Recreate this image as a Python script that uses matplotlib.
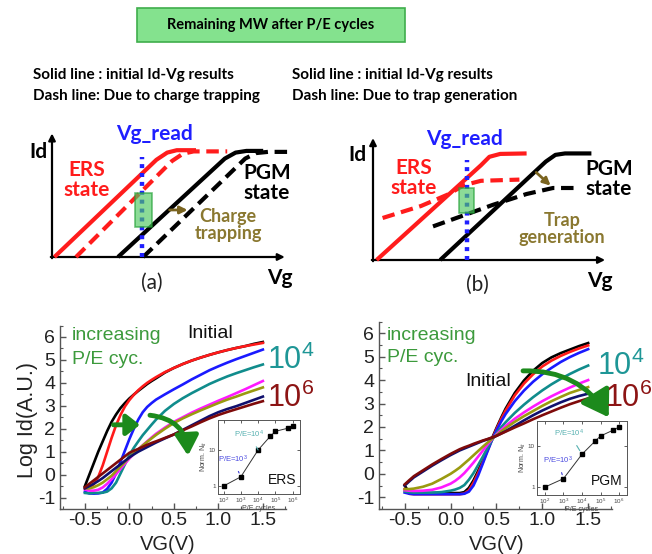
import numpy as np
import matplotlib
matplotlib.use("Agg")
import matplotlib.pyplot as plt
from matplotlib.patches import FancyArrowPatch, Rectangle
from matplotlib.ticker import MultipleLocator, FixedLocator, FixedFormatter, NullLocator

plt.rcParams['font.family'] = ['Liberation Sans', 'DejaVu Sans']
plt.rcParams['axes.unicode_minus'] = False
plt.rcParams['mathtext.fontset'] = 'custom'
plt.rcParams['mathtext.rm'] = 'Liberation Sans'
plt.rcParams['mathtext.it'] = 'Liberation Sans:italic'

# ---------------- schematic Id-Vg sketches (arbitrary units) ----------------
# (a) charge trapping: parallel shift
a_ers_solid_x = [0.1, 4.35, 4.8, 5.2, 6.0]
a_ers_solid_y = [0.0, 4.05, 4.35, 4.45, 4.45]
a_ers_dash_x = [1.0, 5.0, 5.45, 5.9, 7.3]
a_ers_dash_y = [0.0, 4.0, 4.3, 4.4, 4.4]
a_pgm_solid_x = [2.75, 7.2, 7.65, 8.1, 8.8]
a_pgm_solid_y = [0.0, 4.1, 4.35, 4.42, 4.42]
a_pgm_dash_x = [3.8, 8.05, 8.5, 9.0, 9.9]
a_pgm_dash_y = [0.0, 4.1, 4.33, 4.38, 4.38]
a_vread = 3.75

# (b) trap generation: degraded slope
b_ers_solid_x = [0.15, 4.5, 4.85, 5.3, 6.4]
b_ers_solid_y = [0.0, 3.95, 4.3, 4.42, 4.44]
b_ers_dash_x = [0.4, 2.0, 3.1, 3.8, 4.5, 6.1]
b_ers_dash_y = [1.75, 2.25, 2.72, 3.12, 3.3, 3.35]
b_pgm_solid_x = [2.8, 7.2, 7.6, 8.0, 9.1]
b_pgm_solid_y = [0.0, 4.1, 4.38, 4.44, 4.44]
b_pgm_dash_x = [2.5, 5.0, 6.4, 7.5, 8.4]
b_pgm_dash_y = [1.4, 2.3, 2.75, 3.0, 3.0]
b_vread = 3.92

# ---------------- measured Id-Vg after P/E cycling ----------------
series_colors = ['#000000', '#ff1a1a', '#1a1aff', '#108c8c',
                 '#ff1aff', '#9a9a10', '#10106e', '#7e0a0a']

ers_vg = [-0.5, -0.45, -0.4, -0.35, -0.3, -0.25, -0.2, -0.15, -0.1, -0.05, 0.0,
          0.05, 0.1, 0.15, 0.2, 0.25, 0.3, 0.4, 0.5, 0.6, 0.7, 0.8, 0.9, 1.0,
          1.1, 1.2, 1.3, 1.4, 1.5]
ers_black = [-0.5, 0.0, 0.5, 1.0, 1.45, 1.9, 2.3, 2.62, 2.9, 3.12, 3.32, 3.49,
             3.65, 3.8, 3.95, 4.08, 4.2, 4.45, 4.65, 4.82, 4.97, 5.1, 5.22, 5.33,
             5.43, 5.52, 5.6, 5.7, 5.78]
ers_red = [-0.6, -0.55, -0.42, -0.1, 0.4, 1.0, 1.6, 2.15, 2.6, 2.97, 3.25, 3.48,
           3.68, 3.85, 4.0, 4.13, 4.25, 4.47, 4.65, 4.82, 4.97, 5.1, 5.22, 5.33,
           5.43, 5.52, 5.6, 5.67, 5.74]
ers_blue = [-0.75, -0.82, -0.83, -0.82, -0.78, -0.62, -0.35, 0.05, 0.55, 1.05,
            1.55, 2.0, 2.4, 2.72, 2.95, 3.12, 3.27, 3.5, 3.72, 3.93, 4.15, 4.35,
            4.55, 4.72, 4.88, 5.03, 5.17, 5.31, 5.45]
ers_teal = [-0.8, -0.82, -0.8, -0.8, -0.79, -0.74, -0.6, -0.35, 0.05, 0.45, 0.85,
            1.17, 1.45, 1.72, 1.95, 2.18, 2.4, 2.78, 3.08, 3.33, 3.55, 3.75, 3.95,
            4.12, 4.28, 4.42, 4.55, 4.68, 4.8]
ers_magenta = [-0.65, -0.7, -0.7, -0.66, -0.56, -0.4, -0.2, 0.02, 0.25, 0.48,
               0.7, 0.9, 1.1, 1.28, 1.45, 1.62, 1.78, 2.05, 2.3, 2.5, 2.7, 2.88,
               3.05, 3.22, 3.38, 3.55, 3.72, 3.9, 4.08]
ers_olive = [-0.6, -0.6, -0.55, -0.46, -0.35, -0.2, -0.05, 0.15, 0.35, 0.55,
             0.75, 0.93, 1.1, 1.27, 1.43, 1.58, 1.73, 2.0, 2.25, 2.45, 2.63, 2.8,
             2.96, 3.12, 3.27, 3.4, 3.54, 3.67, 3.8]
ers_navy = [-0.6, -0.5, -0.4, -0.28, -0.15, 0.0, 0.15, 0.3, 0.45, 0.6, 0.75,
            0.88, 1.0, 1.1, 1.2, 1.3, 1.4, 1.58, 1.75, 1.95, 2.15, 2.35, 2.55,
            2.72, 2.86, 2.98, 3.12, 3.26, 3.4]
ers_maroon = [-0.55, -0.4, -0.25, -0.1, 0.05, 0.2, 0.35, 0.5, 0.65, 0.8, 0.95,
              1.04, 1.12, 1.21, 1.3, 1.38, 1.45, 1.6, 1.75, 1.93, 2.1, 2.28, 2.45,
              2.6, 2.73, 2.85, 2.97, 3.09, 3.2]

pgm_vg = [-0.5, -0.45, -0.4, -0.3, -0.2, -0.1, 0.0, 0.05, 0.1, 0.15, 0.2, 0.25,
          0.3, 0.35, 0.4, 0.45, 0.5, 0.55, 0.6, 0.7, 0.8, 0.9, 1.0, 1.1, 1.2,
          1.3, 1.4, 1.5]
pgm_black = [-0.5, -0.8, -0.82, -0.82, -0.82, -0.82, -0.82, -0.82, -0.82, -0.78,
             -0.6, -0.28, 0.12, 0.57, 1.03, 1.5, 1.95, 2.38, 2.78, 3.45, 3.98,
             4.4, 4.73, 4.97, 5.15, 5.3, 5.45, 5.58]
pgm_red = [-0.65, -0.85, -0.87, -0.87, -0.87, -0.87, -0.87, -0.87, -0.87, -0.84,
           -0.7, -0.38, 0.03, 0.48, 0.97, 1.45, 1.9, 2.32, 2.7, 3.35, 3.85, 4.25,
           4.58, 4.83, 5.03, 5.2, 5.35, 5.48]
pgm_blue = [-0.8, -0.85, -0.87, -0.87, -0.87, -0.87, -0.87, -0.87, -0.87, -0.85,
            -0.76, -0.5, -0.08, 0.42, 0.93, 1.42, 1.85, 2.22, 2.55, 3.1, 3.55,
            3.93, 4.25, 4.52, 4.77, 4.98, 5.16, 5.32]
pgm_teal = [-0.75, -0.78, -0.8, -0.8, -0.8, -0.78, -0.72, -0.67, -0.6, -0.48,
            -0.25, 0.03, 0.37, 0.72, 1.08, 1.43, 1.73, 1.98, 2.2, 2.6, 2.95, 3.27,
            3.56, 3.82, 4.05, 4.26, 4.45, 4.62]
pgm_magenta = [-0.7, -0.72, -0.73, -0.72, -0.68, -0.58, -0.42, -0.3, -0.15, 0.03,
               0.25, 0.48, 0.73, 0.98, 1.23, 1.47, 1.68, 1.87, 2.04, 2.35, 2.62,
               2.87, 3.1, 3.31, 3.5, 3.68, 3.85, 4.0]
pgm_olive = [-0.65, -0.65, -0.63, -0.55, -0.42, -0.22, 0.0, 0.13, 0.27, 0.44,
             0.61, 0.79, 0.97, 1.15, 1.32, 1.49, 1.64, 1.8, 1.95, 2.22, 2.46,
             2.68, 2.9, 3.1, 3.28, 3.45, 3.58, 3.7]
pgm_navy = [-0.5, -0.32, -0.15, 0.1, 0.35, 0.58, 0.8, 0.9, 1.0, 1.08, 1.16, 1.24,
            1.32, 1.4, 1.47, 1.54, 1.62, 1.72, 1.82, 2.05, 2.28, 2.5, 2.7, 2.88,
            3.05, 3.2, 3.32, 3.42]
pgm_maroon = [-0.45, -0.27, -0.1, 0.15, 0.4, 0.63, 0.85, 0.95, 1.05, 1.13, 1.2,
              1.28, 1.35, 1.42, 1.48, 1.55, 1.62, 1.71, 1.8, 1.98, 2.15, 2.33,
              2.5, 2.66, 2.82, 2.97, 3.1, 3.22]

# normalised interface-trap density vs. P/E cycles
pe_cycles = [1e2, 1e3, 1e4, 5e4, 1e5, 5e5, 1e6]
ers_nit = [1.0, 1.8, 10.0, 24.0, 33.0, 40.0, 46.0]
pgm_nit = [1.0, 1.6, 6.3, 13.0, 17.5, 24.5, 29.0]

ticks_vg = [-0.5, 0.0, 0.5, 1.0, 1.5]
ticks_id = [-1, 0, 1, 2, 3, 4, 5, 6]

# ---------------------------------------------------------------------------
W, H = 652, 554
fig = plt.figure(figsize=(W / 100, H / 100), dpi=100)
fig.patch.set_facecolor('white')


def box(x0, y0, x1, y1):
    return [x0 / W, 1 - y1 / H, (x1 - x0) / W, (y1 - y0) / H]


def fpt(x, y):
    return (x / W, 1 - y / H)


CAL = ['Lato', 'DejaVu Sans']
RED = '#ff1c1c'
BLUE = '#1f1fff'
BROWN_TXT = '#8a7830'
GREEN_TXT = '#3c9a3c'
ARROW_GREEN = '#1c8a1c'

# ---- header ----
fig.add_artist(Rectangle(fpt(137, 42), 268 / W, 34 / H, transform=fig.transFigure,
                         facecolor='#84e28e', edgecolor='#3fae4c', lw=1.2))
fig.text(*fpt(271, 25), 'Remaining MW after P/E cycles', ha='center', va='center',
         family=CAL, weight='bold', size=10.5)
for x0, l1, l2 in [(33, 'Solid line : initial Id-Vg results', 'Dash line: Due to charge trapping'),
                   (292, 'Solid line : initial Id-Vg results', 'Dash line: Due to trap generation')]:
    fig.text(*fpt(x0, 75), l1, ha='left', va='center', family=CAL, weight='bold', size=11)
    fig.text(*fpt(x0, 96), l2, ha='left', va='center', family=CAL, weight='bold', size=11)


# ---- schematics ----
def sketch(ax, ers_s, ers_d, pgm_s, pgm_d, vread, xend, ytop, rect, arr):
    ax.set_xlim(-2, 10.5)
    ax.set_ylim(-2, 5.5)
    ax.axis('off')
    ax.annotate('', xy=(xend, 0), xytext=(-0.05, 0),
                arrowprops=dict(arrowstyle='-|>', lw=1.6, color='k', mutation_scale=10,
                                shrinkA=0, shrinkB=0))
    ax.annotate('', xy=(0, ytop), xytext=(0, -0.05),
                arrowprops=dict(arrowstyle='-|>', lw=1.6, color='k', mutation_scale=10,
                                shrinkA=0, shrinkB=0))
    ax.plot(*ers_s, color=RED, lw=3.0, solid_capstyle='butt', zorder=3)
    ax.plot(*ers_d, color=RED, lw=3.0, ls=(0, (3.0, 1.6)), zorder=3)
    ax.plot(*pgm_s, color='k', lw=3.0, solid_capstyle='butt', zorder=3)
    ax.plot(*pgm_d, color='k', lw=3.0, ls=(0, (3.0, 1.6)), zorder=3)
    ax.plot([vread, vread], [0, 4.15], color=BLUE, lw=3.2, ls=(0, (0.9, 1.1)), zorder=4)
    ax.add_patch(Rectangle((rect[0], rect[1]), rect[2], rect[3], facecolor='#4fc860',
                           edgecolor='#22a035', lw=1.2, alpha=0.65, zorder=5))
    ax.annotate('', xy=arr[1], xytext=arr[0],
                arrowprops=dict(arrowstyle='-|>', lw=2.0, color='#7a6420', mutation_scale=11,
                                shrinkA=0, shrinkB=0), zorder=6)


axA = fig.add_axes(box(4, 125, 304, 305))
sketch(axA, (a_ers_solid_x, a_ers_solid_y), (a_ers_dash_x, a_ers_dash_y),
       (a_pgm_solid_x, a_pgm_solid_y), (a_pgm_dash_x, a_pgm_dash_y),
       a_vread, 9.7, 5.15, (3.46, 1.25, 0.71, 1.42), ((4.9, 1.96), (5.65, 1.96)))
axB = fig.add_axes(box(325, 128, 625, 308))
sketch(axB, (b_ers_solid_x, b_ers_solid_y), (b_ers_dash_x, b_ers_dash_y),
       (b_pgm_solid_x, b_pgm_solid_y), (b_pgm_dash_x, b_pgm_dash_y),
       b_vread, 9.67, 5.08, (3.58, 1.96, 0.63, 1.04), ((6.8, 3.65), (7.4, 3.1)))

sk = dict(family=CAL, weight='bold', ha='center', va='center')
for (vx, vy), (ix, iy), (ex, ey), (px, py), (tx, ty), ttxt, (gx, gy), (lx, ly), lab in [
        ((154, 134), (38, 152), (87, 180), (267, 183), (228, 225), 'Charge\ntrapping',
         (280, 278), (152, 283), '(a)'),
        ((464, 139), (357, 155), (414, 178), (609, 179), (562, 229), 'Trap\ngeneration',
         (600, 281), (477, 285), '(b)')]:
    fig.text(*fpt(vx, vy), 'Vg_read', color=BLUE, size=15, **sk)
    fig.text(*fpt(ix, iy), 'Id', color='k', size=15, **sk)
    fig.text(*fpt(ex, ey), 'ERS\nstate', color=RED, size=15, linespacing=0.95, **sk)
    fig.text(*fpt(px, py), 'PGM\nstate', color='k', size=15, linespacing=0.95, **sk)
    fig.text(*fpt(tx, ty), ttxt, color=BROWN_TXT, size=13, linespacing=0.95, **sk)
    fig.text(*fpt(gx, gy), 'Vg', color='k', size=15, **sk)
    fig.text(*fpt(lx, ly), lab, color='#222222', size=15, family=CAL, ha='center', va='center')


# ---- measured curves ----
def style_main(ax):
    ax.set_xlim(-0.78, 1.76)
    ax.set_ylim(-1.5, 6.5)
    for s in ('top', 'right'):
        ax.spines[s].set_visible(False)
    for s in ('left', 'bottom'):
        ax.spines[s].set_color('#555555')
        ax.spines[s].set_linewidth(1.0)
    ax.xaxis.set_major_locator(FixedLocator(ticks_vg))
    ax.xaxis.set_major_formatter(FixedFormatter(['%.1f' % v for v in ticks_vg]))
    ax.xaxis.set_minor_locator(MultipleLocator(0.25))
    ax.yaxis.set_major_locator(FixedLocator(ticks_id))
    ax.yaxis.set_major_formatter(FixedFormatter([str(v) for v in ticks_id]))
    ax.yaxis.set_minor_locator(MultipleLocator(0.5))
    ax.tick_params(which='both', direction='in', colors='#555555', labelcolor='#222222')
    ax.tick_params(which='major', length=4, width=1, labelsize=14)
    ax.tick_params(which='minor', length=2.5, width=0.8)
    ax.tick_params(axis='x', pad=2.5)
    ax.tick_params(axis='y', pad=3.5)
    ax.patch.set_alpha(0)


axL = fig.add_axes(box(60, 325.5, 286, 509))
style_main(axL)
for yv, c in zip([ers_black, ers_red, ers_blue, ers_teal, ers_magenta, ers_olive,
                  ers_navy, ers_maroon], series_colors):
    axL.plot(ers_vg, yv, color=c, lw=1.9, solid_joinstyle='round')

axR = fig.add_axes(box(379, 321.5, 612, 509))
style_main(axR)
for yv, c in zip([pgm_black, pgm_red, pgm_blue, pgm_teal, pgm_magenta, pgm_olive,
                  pgm_navy, pgm_maroon], series_colors):
    axR.plot(pgm_vg, yv, color=c, lw=1.9, solid_joinstyle='round')

fig.text(*fpt(28, 420), 'Log Id(A.U.)', rotation=90, ha='center', va='center', size=15.5,
         color='#222222')
fig.text(*fpt(168, 554), 'VG(V)', ha='center', va='bottom', size=14.5, color='#222222')
fig.text(*fpt(497, 554), 'VG(V)', ha='center', va='bottom', size=14.5, color='#222222')

# labels on the measured panels
for (ix, iy1, iy2), (nx, ny), (t4x, t4y), (t6x, t6y) in [
        ((72, 335, 360), (210, 333), (267, 360), (267, 398)),
        ((387, 335, 358), (488, 382), (597, 366), (605, 398))]:
    fig.text(*fpt(ix, iy1), 'increasing', ha='left', va='center', size=14, color=GREEN_TXT)
    fig.text(*fpt(ix, iy2), 'P/E cyc.', ha='left', va='center', size=14, color=GREEN_TXT)
    fig.text(*fpt(nx, ny), 'Initial', ha='center', va='center', size=14, color='#111111')
    fig.text(*fpt(t4x, t4y), '10$^4$', ha='left', va='center', size=22, color='#1e9696')
    fig.text(*fpt(t6x, t6y), '10$^6$', ha='left', va='center', size=22, color='#8c1414')

# green arrows
axL.add_patch(FancyArrowPatch((-0.21, 2.17), (0.15, 2.17), arrowstyle='-|>,head_length=0.45,head_width=0.35',
                              mutation_scale=18, lw=3.5, color=ARROW_GREEN, zorder=8))
axL.add_patch(FancyArrowPatch((0.2, 2.6), (0.66, 0.7), connectionstyle='arc3,rad=-0.45',
                              arrowstyle='-|>,head_length=0.6,head_width=0.35',
                              mutation_scale=20, lw=3.5, color=ARROW_GREEN, zorder=8))
axR.add_patch(FancyArrowPatch((0.76, 4.39), (1.74, 2.31), connectionstyle='arc3,rad=-0.3',
                              arrowstyle='-|>,head_length=0.7,head_width=0.45',
                              mutation_scale=22, lw=3.5, color=ARROW_GREEN, zorder=8,
                              clip_on=False))


# ---- insets ----
def inset(rect, xlim, ylim, nit, name, lab4, lab3):
    ax = fig.add_axes(box(*rect))
    ax.set_zorder(10)
    ax.set_xscale('log')
    ax.set_yscale('log')
    ax.plot(pe_cycles, nit, color='#333333', lw=0.7, marker='s', ms=2.6,
            mfc='k', mec='k')
    ax.set_xlim(*xlim)
    ax.set_ylim(*ylim)
    ax.xaxis.set_major_locator(FixedLocator([1e2, 1e3, 1e4, 1e5, 1e6]))
    ax.xaxis.set_major_formatter(FixedFormatter(['10$^2$', '10$^3$', '10$^4$', '10$^5$', '10$^6$']))
    ax.xaxis.set_minor_locator(NullLocator())
    ax.yaxis.set_major_locator(FixedLocator([1, 10]))
    ax.yaxis.set_major_formatter(FixedFormatter(['1', '10']))
    ax.yaxis.set_minor_locator(NullLocator())
    ax.tick_params(which='both', direction='in', length=2, width=0.6, labelsize=4.5,
                   pad=1.5, top=True, right=True, colors='#444444')
    for s in ax.spines.values():
        s.set_linewidth(0.7)
        s.set_color('#555555')
    ax.set_xlabel('P/E cycles', fontsize=5, labelpad=0, color='#444444')
    ax.set_ylabel('Norm. N$_{it}$', fontsize=5, labelpad=0, color='#444444')
    ax.text(0.95, 0.1, name, transform=ax.transAxes, ha='right', va='bottom', size=10,
            color='#111111')
    ax.annotate('P/E=10$^4$', xy=(1e4, nit[2]), xytext=lab4, textcoords='axes fraction',
                ha='center', va='center', size=5.5, color='#55b0b0',
                arrowprops=dict(arrowstyle='-', color='#55b0b0', lw=0.8, shrinkA=3, shrinkB=3))
    ax.annotate('P/E=10$^3$', xy=(1e3, nit[1]), xytext=lab3, textcoords='axes fraction',
                ha='center', va='center', size=5.5, color='#4a4ae0',
                arrowprops=dict(arrowstyle='-', color='#3a3ad0', lw=0.8, shrinkA=3, shrinkB=3))
    return ax


inset((218, 420, 300, 494), (10 ** 1.68, 10 ** 6.42), (0.6, 68), ers_nit, 'ERS',
      (0.38, 0.8), (0.18, 0.47))
inset((537, 421, 627, 495), (10 ** 1.57, 10 ** 6.43), (0.64, 40.6), pgm_nit, 'PGM',
      (0.36, 0.83), (0.23, 0.47))

fig.savefig('out.png', dpi=100, facecolor='white')
